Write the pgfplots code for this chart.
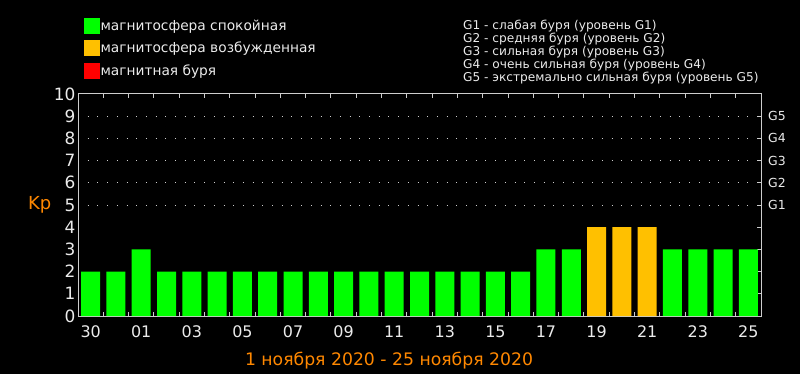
\documentclass[border=0pt]{standalone}
\usepackage{pgfplots}
\pgfplotsset{compat=1.18}
\usepackage{fontspec}
\setmainfont{DejaVu Sans}
\definecolor{kgreen}{RGB}{0,255,0}
\definecolor{korange}{RGB}{255,192,0}
\definecolor{kred}{RGB}{255,0,0}
\definecolor{ktext}{RGB}{235,235,235}
\definecolor{klabel}{RGB}{255,136,0}
\definecolor{kaxis}{RGB}{205,205,205}
\begin{document}
\begin{tikzpicture}[x=1bp,y=1bp]
\fill[black] (0,0) rectangle (800,374);
\begin{axis}[
  at={(78bp,58bp)}, anchor=south west,
  scale only axis, width=683bp, height=222bp,
  xmin=-0.5, xmax=26.5, ymin=0, ymax=10,
  clip=false,
  axis line style={kaxis, line width=1bp},
  /pgf/number format/assume math mode=true,
  xtick={0,2,...,26},
  xticklabels={30,01,03,05,07,09,11,13,15,17,19,21,23,25},
  xtick pos=both, xticklabel pos=bottom,
  major x tick style={draw=none},
  minor xtick={0.5,1.5,...,25.5},
  minor x tick style={kaxis, line width=1bp},
  minor tick length=4bp,
  tick align=inside,
  ytick={0,...,10},
  ytick pos=right, yticklabel pos=left,
  major tick length=4bp,
  y tick style={kaxis, line width=1bp},
  xticklabel style={ktext, font=\fontsize{16}{16}\selectfont, yshift=-6bp},
  yticklabel style={ktext, font=\fontsize{17}{17}\selectfont, xshift=1bp},
  extra y ticks={5,6,7,8,9},
  extra y tick labels={},
  extra y tick style={grid=major},
  major grid style={kaxis, line width=1bp, dash pattern=on 1bp off 8.7bp},
  legend style={draw=none, fill=none, at={(0.0044,1.352)}, anchor=north west,
    text=ktext, font=\fontsize{13.8}{14}\selectfont, row sep=7bp,
    nodes={inner sep=1bp}},
  legend cell align=left,
]
\addlegendimage{legend image code/.code={\fill[kgreen] (0bp,-7.5bp) rectangle (15bp,7.5bp);}}
\addlegendentry{магнитосфера спокойная}
\addlegendimage{legend image code/.code={\fill[korange] (0bp,-7.5bp) rectangle (15bp,7.5bp);}}
\addlegendentry{магнитосфера возбужденная}
\addlegendimage{legend image code/.code={\fill[kred] (0bp,-7.5bp) rectangle (15bp,7.5bp);}}
\addlegendentry{магнитная буря}
\addplot[ybar, bar width=19bp, bar shift=0pt, fill=kgreen, draw=none, forget plot] coordinates {
(0,2) (1,2) (2,3) (3,2) (4,2) (5,2) (6,2) (7,2) (8,2) (9,2) (10,2) (11,2) (12,2) (13,2)
(14,2) (15,2) (16,2) (17,2) (18,3) (19,3) (23,3) (24,3) (25,3) (26,3)};
\addplot[ybar, bar width=19bp, bar shift=0pt, fill=korange, draw=none, forget plot] coordinates {
(20,4) (21,4) (22,4)};
\node[anchor=west, ktext, font=\fontsize{12.5}{12.5}\selectfont, inner sep=0pt, xshift=7bp] at (axis cs:26.5,5) {G1};
\node[anchor=west, ktext, font=\fontsize{12.5}{12.5}\selectfont, inner sep=0pt, xshift=7bp] at (axis cs:26.5,6) {G2};
\node[anchor=west, ktext, font=\fontsize{12.5}{12.5}\selectfont, inner sep=0pt, xshift=7bp] at (axis cs:26.5,7) {G3};
\node[anchor=west, ktext, font=\fontsize{12.5}{12.5}\selectfont, inner sep=0pt, xshift=7bp] at (axis cs:26.5,8) {G4};
\node[anchor=west, ktext, font=\fontsize{12.5}{12.5}\selectfont, inner sep=0pt, xshift=7bp] at (axis cs:26.5,9) {G5};
\end{axis}
\node[anchor=north west, inner sep=0pt, align=left, ktext, font=\fontsize{12.2}{13}\selectfont] at (463,354) {G1 - слабая буря (уровень G1)\\G2 - средняя буря (уровень G2)\\G3 - сильная буря (уровень G3)\\G4 - очень сильная буря (уровень G4)\\G5 - экстремально сильная буря (уровень G5)};
\node[anchor=base west, inner sep=0pt, klabel, font=\fontsize{18}{18}\selectfont] at (28,165) {Kp};
\node[anchor=base, inner sep=0pt, klabel, font=\fontsize{17.3}{17.3}\selectfont] at (389,9) {1 ноября 2020 - 25 ноября 2020};
\end{tikzpicture}
\end{document}
